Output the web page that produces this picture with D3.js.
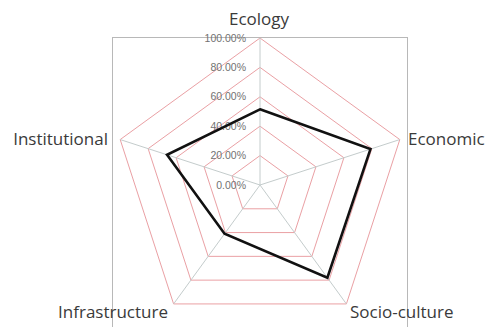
<!DOCTYPE html>
<html><head><meta charset="utf-8">
<script src="https://cdn.jsdelivr.net/npm/d3@7"></script>
<style>body{margin:0;background:#fff;}svg{display:block;}</style>
</head><body>
<svg id="chart" width="488" height="327"></svg>
<script>
const categories = ["Ecology", "Economic", "Socio-culture", "Infrastructure", "Institutional"];
const values = [0.515, 0.79, 0.78, 0.41, 0.665];
const tickValues = [0, 0.2, 0.4, 0.6, 0.8, 1.0];
const tickLabels = ["0.00%", "20.00%", "40.00%", "60.00%", "80.00%", "100.00%"];

const svg = d3.select("#chart");
const cx = 260, cy = 185, R = 147;
const r = d3.scaleLinear().domain([0, 1]).range([0, R]);
const angle = d3.scalePoint().domain(categories.concat(["_end"])).range([0, 2 * Math.PI]);
const pt = (cat, v) => {
  const a = angle(cat);
  return [cx + r(v) * Math.sin(a), cy - r(v) * Math.cos(a)];
};

// plot border box
svg.append("rect").attr("x", 112.5).attr("y", 37.5).attr("width", 295).attr("height", 300)
  .attr("fill", "none").attr("stroke", "#b8b8b8").attr("stroke-width", 1);

// rings
const line = d3.line().curve(d3.curveLinearClosed);
tickValues.filter(t => t > 0).forEach(t => {
  svg.append("path").attr("d", line(categories.map(c => pt(c, t))))
    .attr("fill", "none").attr("stroke", "#eaa0a4").attr("stroke-width", 1);
});
// spokes
categories.forEach(c => {
  const [x, y] = pt(c, 1);
  svg.append("line").attr("x1", cx).attr("y1", cy).attr("x2", x).attr("y2", y)
    .attr("stroke", "#c4cccc").attr("stroke-width", 1);
});

// tick labels
tickValues.forEach((t, i) => {
  svg.append("text").attr("x", 246).attr("y", cy - r(t)).attr("dy", "0.35em")
    .attr("text-anchor", "end").attr("font-family", "Liberation Sans, Arial, sans-serif")
    .attr("font-size", 10.5).attr("fill", "#727272").text(tickLabels[i]);
});

// data polygon
svg.append("path").attr("d", line(categories.map((c, i) => pt(c, values[i]))))
  .attr("fill", "none").attr("stroke", "#111").attr("stroke-width", 2.6).attr("stroke-linejoin", "miter");

// category labels
const labelPos = {
  "Ecology": {x: 259, y: 19, anchor: "middle"},
  "Economic": {x: 408, y: 139, anchor: "start"},
  "Socio-culture": {x: 350, y: 312, anchor: "start"},
  "Infrastructure": {x: 168, y: 312, anchor: "end"},
  "Institutional": {x: 108, y: 139, anchor: "end"}
};
categories.forEach(c => {
  const p = labelPos[c];
  svg.append("text").attr("x", p.x).attr("y", p.y).attr("dy", "0.35em")
    .attr("text-anchor", p.anchor).attr("font-family", "Open Sans, sans-serif")
    .attr("font-size", 17).attr("fill", "#3a3a3a").text(c);
});
</script>
</body></html>
